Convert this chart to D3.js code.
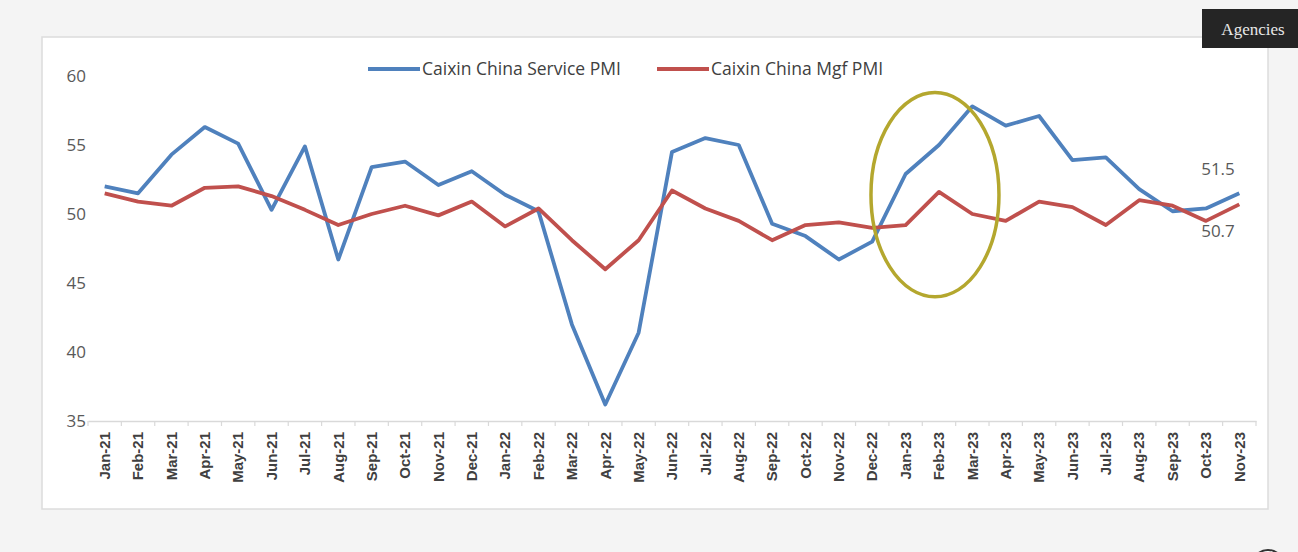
<!DOCTYPE html>
<html>
<head>
<meta charset="utf-8">
<script src="https://cdn.jsdelivr.net/npm/d3@7"></script>
<style>
  html, body { margin: 0; padding: 0; background: #f4f4f4; }
  svg { display: block; }
</style>
</head>
<body>
<svg id="chart" width="1298" height="552"></svg>
<script>
'use strict'

// months shown on the x axis
const months = [
  'Jan-21', 'Feb-21', 'Mar-21', 'Apr-21', 'May-21', 'Jun-21', 'Jul-21', 'Aug-21', 'Sep-21', 'Oct-21', 'Nov-21', 'Dec-21',
  'Jan-22', 'Feb-22', 'Mar-22', 'Apr-22', 'May-22', 'Jun-22', 'Jul-22', 'Aug-22', 'Sep-22', 'Oct-22', 'Nov-22', 'Dec-22',
  'Jan-23', 'Feb-23', 'Mar-23', 'Apr-23', 'May-23', 'Jun-23', 'Jul-23', 'Aug-23', 'Sep-23', 'Oct-23', 'Nov-23'
]

const servicePMI = [
  52.0, 51.5, 54.3, 56.3, 55.1, 50.3, 54.9, 46.7, 53.4, 53.8, 52.1, 53.1,
  51.4, 50.2, 42.0, 36.2, 41.4, 54.5, 55.5, 55.0, 49.3, 48.4, 46.7, 48.0,
  52.9, 55.0, 57.8, 56.4, 57.1, 53.9, 54.1, 51.8, 50.2, 50.4, 51.5
]

const mfgPMI = [
  51.5, 50.9, 50.6, 51.9, 52.0, 51.3, 50.3, 49.2, 50.0, 50.6, 49.9, 50.9,
  49.1, 50.4, 48.1, 46.0, 48.1, 51.7, 50.4, 49.5, 48.1, 49.2, 49.4, 49.0,
  49.2, 51.6, 50.0, 49.5, 50.9, 50.5, 49.2, 51.0, 50.6, 49.5, 50.7
]

const yTicks = [35, 40, 45, 50, 55, 60]

const seriesNames = ['Caixin China Service PMI', 'Caixin China Mgf PMI']
const seriesColors = ['#4f81bd', '#c0504d']

let svg = d3.select('#chart')

// white chart panel
svg.append('rect')
  .attr('x', 42).attr('y', 37)
  .attr('width', 1226).attr('height', 472)
  .attr('fill', '#ffffff')
  .attr('stroke', '#dcdcdc')
  .attr('stroke-width', 1.5)

let x = d3.scaleBand().domain(months).range([88, 1256])
let y = d3.scaleLinear().domain([35, 60]).range([421, 76])
let xc = function (m) { return x(m) + x.bandwidth() / 2 }

// y axis labels (no line)
let yAxis = d3.axisLeft(y).tickValues(yTicks).tickSize(0).tickPadding(0)
let gy = svg.append('g').attr('transform', 'translate(86,0)').call(yAxis)
gy.select('.domain').remove()
gy.selectAll('text')
  .attr('font-family', '"Open Sans", sans-serif')
  .attr('font-size', 17)
  .attr('fill', '#595959')

// x axis
let xAxis = d3.axisBottom(x).tickSize(0).tickPadding(0)
let gx = svg.append('g').attr('transform', 'translate(0,421)').call(xAxis)
gx.select('.domain').attr('stroke', '#d9d9d9').attr('stroke-width', 1.5)
gx.selectAll('.tick text')
  .attr('font-family', '"Liberation Sans", Arial, sans-serif')
  .attr('font-size', 15)
  .attr('font-weight', 'bold')
  .attr('fill', '#404040')
  .attr('text-anchor', 'end')
  .attr('dy', '0.35em')
  .attr('transform', 'translate(0,11) rotate(-90)')
// boundary tick marks
svg.append('g').selectAll('line')
  .data(months.concat(['end']))
  .enter().append('line')
  .attr('x1', function (d, i) { return x.range()[0] + i * x.bandwidth() })
  .attr('x2', function (d, i) { return x.range()[0] + i * x.bandwidth() })
  .attr('y1', 421).attr('y2', 426)
  .attr('stroke', '#d9d9d9')
  .attr('stroke-width', 1.2)

// lines
let line = d3.line()
  .x(function (d, i) { return xc(months[i]) })
  .y(function (d) { return y(d) })

;[servicePMI, mfgPMI].forEach(function (s, k) {
  svg.append('path')
    .datum(s)
    .attr('d', line)
    .attr('fill', 'none')
    .attr('stroke', seriesColors[k])
    .attr('stroke-width', 3.8)
    .attr('stroke-linejoin', 'round')
})

// legend
let legendX = [368, 657]
seriesNames.forEach(function (name, k) {
  let g = svg.append('g').attr('transform', `translate(${legendX[k]},69)`)
  g.append('line')
    .attr('x1', 0).attr('x2', 52)
    .attr('stroke', seriesColors[k])
    .attr('stroke-width', 3.8)
  g.append('text')
    .attr('x', 54).attr('dy', '0.35em')
    .attr('font-family', '"Open Sans", sans-serif')
    .attr('font-size', 17.5)
    .attr('fill', '#404040')
    .text(name)
})

// end labels
svg.append('text')
  .attr('x', 1218).attr('y', y(servicePMI[servicePMI.length - 1]) - 18)
  .attr('text-anchor', 'middle')
  .attr('font-family', '"Open Sans", sans-serif')
  .attr('font-size', 17)
  .attr('fill', '#595959')
  .text(d3.format('.1f')(servicePMI[servicePMI.length - 1]))
svg.append('text')
  .attr('x', 1218).attr('y', y(mfgPMI[mfgPMI.length - 1]) + 33)
  .attr('text-anchor', 'middle')
  .attr('font-family', '"Open Sans", sans-serif')
  .attr('font-size', 17)
  .attr('fill', '#595959')
  .text(d3.format('.1f')(mfgPMI[mfgPMI.length - 1]))

// highlight ellipse round Feb-23
svg.append('ellipse')
  .attr('cx', xc('Feb-23') - 4)
  .attr('cy', y(51.4))
  .attr('rx', 64)
  .attr('ry', y(44) - y(51.4))
  .attr('fill', 'none')
  .attr('stroke', '#b4a72e')
  .attr('stroke-width', 3.5)

// source badge
svg.append('rect')
  .attr('x', 1202).attr('y', 9)
  .attr('width', 96).attr('height', 39)
  .attr('fill', '#252525')
svg.append('text')
  .attr('x', 1253).attr('y', 35)
  .attr('text-anchor', 'middle')
  .attr('font-family', '"Liberation Serif", serif')
  .attr('font-size', 17)
  .attr('fill', '#e8e8e8')
  .text('Agencies')

// partial icon at the bottom right corner
svg.append('circle')
  .attr('cx', 1268).attr('cy', 566)
  .attr('r', 16)
  .attr('fill', '#ffffff')
  .attr('stroke', '#333333')
  .attr('stroke-width', 2)
</script>
</body>
</html>
